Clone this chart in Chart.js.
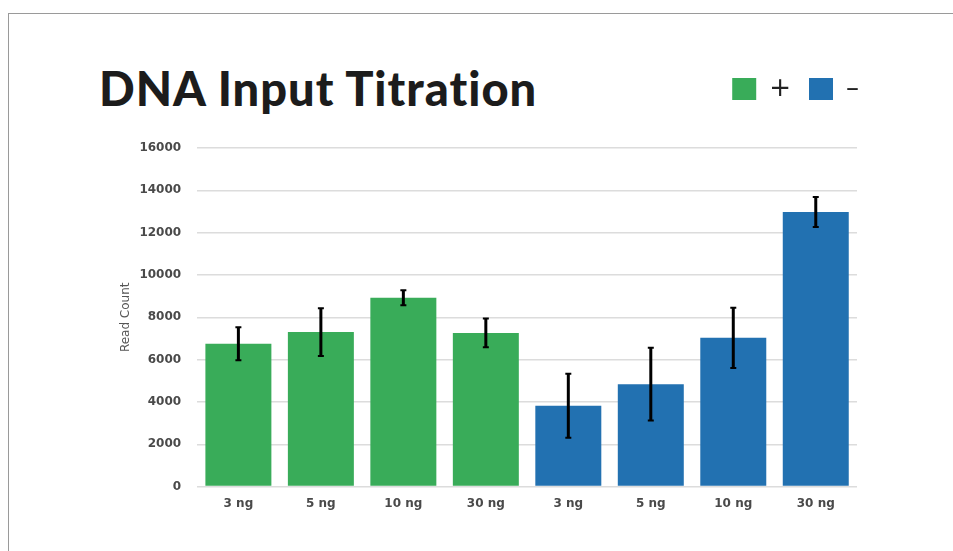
<!DOCTYPE html>
<html>
<head>
<meta charset="utf-8">
<script src="https://cdn.jsdelivr.net/npm/chart.js@4/dist/chart.umd.min.js"></script>
<style>
  html, body { margin: 0; padding: 0; background: #fff; }
  body { width: 953px; height: 551px; position: relative; overflow: hidden; }
  .frame { position: absolute; left: 8px; top: 13px; right: 0; bottom: 0; border-top: 1px solid #9a9a9a; border-left: 1px solid #9a9a9a; }
  .title { position: absolute; left: 99px; top: 60px; font-family: Lato, sans-serif; font-weight: 900; font-size: 47px; color: #1c1c1c; letter-spacing: 1px; white-space: nowrap; }
  #wrap { position: absolute; left: 0; top: 0; width: 953px; height: 551px; }
</style>
</head>
<body>
<div class="frame"></div>
<div class="title">DNA Input Titration</div>
<div id="wrap"><canvas id="chart"></canvas></div>
<script>
// DNA input titration, read counts with error bars

// DATA
// ============================================================
const categories  = ['3 ng', '5 ng', '10 ng', '30 ng', '3 ng', '5 ng', '10 ng', '30 ng'];
const plusValues  = [6750, 7300, 8920, 7260, null, null, null, null];
const minusValues = [null, null, null, null, 3820, 4840, 7030, 12980];
const plusErr     = [780, 1130, 355, 680, null, null, null, null];
const minusErr    = [null, null, null, null, 1510, 1720, 1420, 710];
const yTicks      = [0, 2000, 4000, 6000, 8000, 10000, 12000, 14000, 16000];

const GREEN = '#39ac59';
const BLUE  = '#2271b1';

// error bars drawn through the y scale
const errorBars = {
  id: 'errorBars',
  afterDatasetsDraw(chart) {
    const ctx = chart.ctx;
    const y = chart.scales.y;
    chart.data.datasets.forEach((ds, di) => {
      const meta = chart.getDatasetMeta(di);
      meta.data.forEach((bar, i) => {
        const v = ds.data[i], e = ds.errors[i];
        if (v == null || e == null) return;
        const top = y.getPixelForValue(v + e);
        const bot = y.getPixelForValue(v - e);
        ctx.save();
        ctx.strokeStyle = '#000';
        ctx.lineWidth = 3;
        ctx.beginPath();
        ctx.moveTo(bar.x, top); ctx.lineTo(bar.x, bot);
        ctx.stroke();
        ctx.lineWidth = 2;
        ctx.beginPath();
        ctx.moveTo(bar.x - 3, top); ctx.lineTo(bar.x + 3, top);
        ctx.moveTo(bar.x - 3, bot); ctx.lineTo(bar.x + 3, bot);
        ctx.stroke();
        ctx.restore();
      });
    });
  }
};

// nudge the legend up beside the title and flush with the plot's right edge
const legendShift = {
  id: 'legendShift',
  afterLayout(chart) {
    const lg = chart.legend;
    lg.top -= 36; lg.bottom -= 36;
    lg.left += 20; lg.right += 20;
  }
};

new Chart(document.getElementById('chart'), {
  type: 'bar',
  data: {
    labels: categories,
    datasets: [
      { label: '+', data: plusValues,  errors: plusErr,  backgroundColor: GREEN, grouped: false, barPercentage: 0.8, categoryPercentage: 1 },
      { label: '–', data: minusValues, errors: minusErr, backgroundColor: BLUE,  grouped: false, barPercentage: 0.8, categoryPercentage: 1 },
    ]
  },
  options: {
    responsive: true,
    maintainAspectRatio: false,
    animation: false,
    layout: { padding: { top: 94, left: 113, right: 96, bottom: 38 } },
    scales: {
      x: {
        grid: { display: false },
        border: { display: false },
        ticks: { color: '#4a4a4a', font: { family: 'DejaVu Sans', weight: 'bold', size: 12 }, padding: 2 }
      },
      y: {
        min: 0, max: 16000,
        afterBuildTicks: s => { s.ticks = yTicks.map(v => ({ value: v })); },
        grid: { color: '#dcdcdc', lineWidth: 1.5, drawTicks: false },
        border: { display: false },
        ticks: { color: '#4a4a4a', font: { family: 'DejaVu Sans', weight: 'bold', size: 12 }, padding: 16, callback: v => String(v) },
        title: { display: true, text: 'Read Count', color: '#555', font: { family: 'DejaVu Sans', size: 12 }, padding: { top: 6, bottom: -10 } }
      }
    },
    plugins: {
      legend: {
        position: 'top', align: 'end',
        labels: {
          boxWidth: 24, boxHeight: 22, padding: 18,
          color: '#222', font: { family: 'DejaVu Sans', size: 26 }
        }
      },
      tooltip: { enabled: false }
    }
  },
  plugins: [errorBars, legendShift]
});
</script>
</body>
</html>
